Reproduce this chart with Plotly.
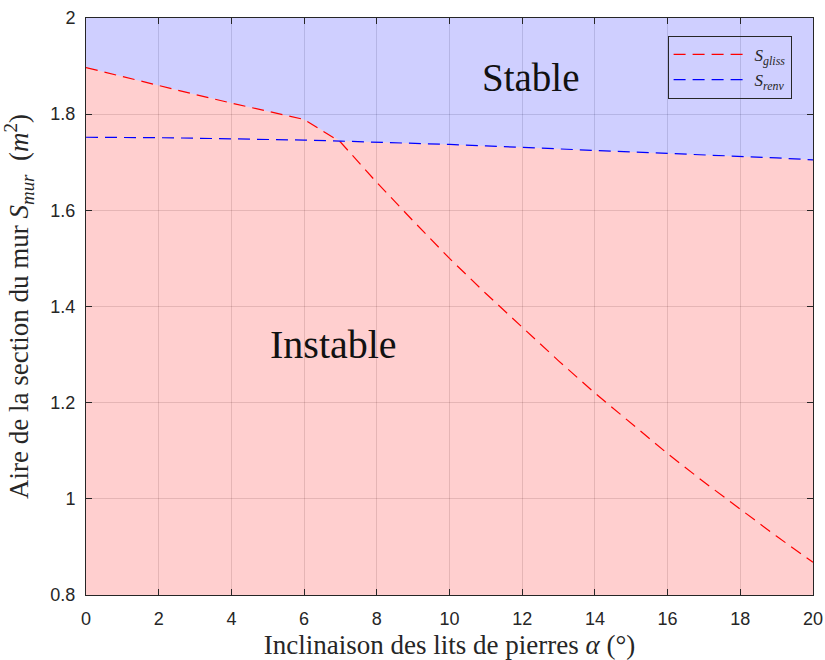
import numpy as np
import plotly.graph_objects as go

# ---- data ----
alpha_deg = [0, 1, 2, 3, 4, 5, 6, 7, 8, 9, 10, 11, 12, 13, 14, 15, 16, 17, 18, 19, 20]
s_gliss = [1.897, 1.878, 1.859, 1.841, 1.823, 1.806, 1.789, 1.742, 1.658, 1.578, 1.500,
           1.427, 1.356, 1.287, 1.220, 1.156, 1.094, 1.035, 0.978, 0.922, 0.868]
s_renv = [1.752, 1.752, 1.751, 1.750, 1.749, 1.748, 1.746, 1.744, 1.742, 1.740, 1.737,
          1.734, 1.731, 1.728, 1.725, 1.722, 1.719, 1.716, 1.712, 1.709, 1.705]
x_range = [0, 20]
y_range = [0.8, 2]
x_ticks = [0, 2, 4, 6, 8, 10, 12, 14, 16, 18, 20]
y_ticks = [0.8, 1.0, 1.2, 1.4, 1.6, 1.8, 2.0]
y_ticklabels = ["0.8", "1", "1.2", "1.4", "1.6", "1.8", "2"]

boundary = list(np.maximum(np.array(s_gliss), np.array(s_renv)))
top = [y_range[1]] * len(alpha_deg)

SERIF = "Liberation Serif"
SANS = "Liberation Sans"
AX = "#262626"

fig = go.Figure()
fig.add_trace(go.Scatter(x=alpha_deg, y=boundary, mode="lines", line=dict(width=0),
                         fill="tozeroy", fillcolor="rgba(255,0,0,0.19)",
                         showlegend=False, hoverinfo="skip"))
fig.add_trace(go.Scatter(x=alpha_deg, y=top, mode="lines", line=dict(width=0),
                         fill="tonexty", fillcolor="rgba(0,0,255,0.19)",
                         showlegend=False, hoverinfo="skip"))
fig.add_trace(go.Scatter(x=alpha_deg, y=s_gliss, mode="lines",
                         line=dict(color="#ff0000", width=1.2, dash="12px,7px"),
                         name="<i>S</i><sub><i>gliss</i></sub>"))
fig.add_trace(go.Scatter(x=alpha_deg, y=s_renv, mode="lines",
                         line=dict(color="#0000ff", width=1.2, dash="12px,7px"),
                         name="<i>S</i><sub><i>renv</i></sub>"))

fig.add_annotation(x=12.24, y=1.877, text="Stable", showarrow=False,
                   font=dict(family=SERIF, size=39, color="#111111"))
fig.add_annotation(x=6.82, y=1.32, text="Instable", showarrow=False,
                   font=dict(family=SERIF, size=40, color="#111111"))

axis_common = dict(showline=True, linecolor=AX, linewidth=1, mirror="ticks",
                   ticks="inside", ticklen=6, tickcolor=AX, automargin=False,
                   showgrid=True, gridcolor="rgba(38,38,38,0.15)", gridwidth=1,
                   zeroline=False, tickfont=dict(family=SANS, size=18, color=AX))

fig.update_xaxes(range=x_range, tickvals=x_ticks, ticklabelstandoff=7,
                 ticklabeloverflow="allow",
                 title=dict(text="Inclinaison des lits de pierres <i>α</i> (°)",
                            font=dict(family=SERIF, size=27, color=AX), standoff=13),
                 **axis_common)
fig.update_yaxes(range=y_range, tickvals=y_ticks, ticktext=y_ticklabels,
                 ticklabelstandoff=6,
                 title=dict(text="Aire de la section du mur <i>S</i><sub><i>mur</i></sub>  (<i>m</i><sup>2</sup>)",
                            font=dict(family=SERIF, size=27, color=AX), standoff=18),
                 **axis_common)

fig.update_layout(width=825, height=660,
                  margin=dict(l=86, r=12, t=18, b=65),
                  plot_bgcolor="white", paper_bgcolor="white",
                  legend=dict(x=0.80, y=0.969, xanchor="left", yanchor="top",
                              traceorder="normal",
                              bgcolor="rgba(0,0,0,0)", bordercolor=AX, borderwidth=1,
                              font=dict(family=SERIF, size=17, color=AX),
                              tracegroupgap=0, itemwidth=76))

fig.write_html("out.html", config={"displayModeBar": False},
               post_script="document.body.style.margin='0';document.body.style.overflow='hidden';")
